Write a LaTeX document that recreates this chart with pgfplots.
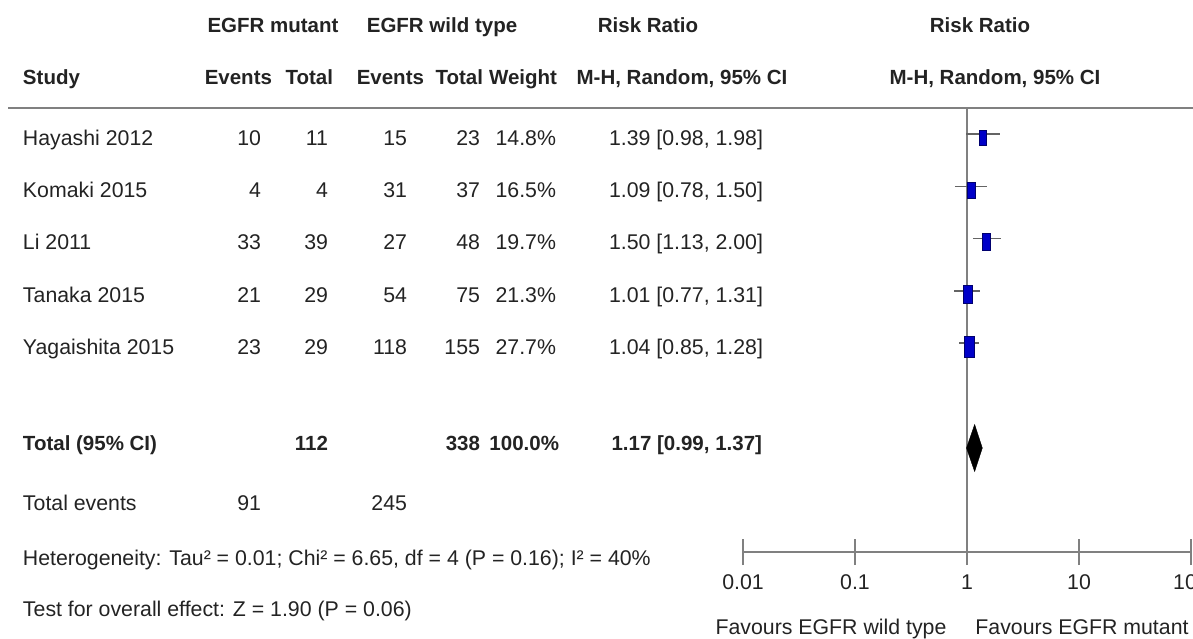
\documentclass[border=0pt]{standalone}
\usepackage{fontspec}
\setmainfont{Liberation Sans}
\usepackage{pgfplots}
\pgfplotsset{compat=1.18}
\definecolor{boxblue}{RGB}{0,0,200}
\definecolor{boxedge}{RGB}{0,0,110}
\definecolor{linegray}{RGB}{128,128,128}
\definecolor{cigray}{RGB}{100,100,100}
\definecolor{txt}{RGB}{35,35,35}
\newcommand{\fs}{\fontsize{21.3}{25}\selectfont}
\newcommand{\fb}{\fontsize{20.5}{25}\selectfont\bfseries}
\begin{document}
\begin{tikzpicture}
\begin{scope}[x=1pt,y=1pt,
  every node/.style={inner sep=0pt, outer sep=0pt, text=txt, font=\fs},
  L/.style={anchor=base west}, R/.style={anchor=base east}, C/.style={anchor=base}]
% header line
\draw[linegray, line width=2.2pt] (8,530) -- (1193,530);
% headers
\node[C, font=\fb] at (273,605) {EGFR mutant};
\node[C, font=\fb] at (442,605) {EGFR wild type};
\node[C, font=\fb] at (648,605) {Risk Ratio};
\node[C, font=\fb] at (980,605) {Risk Ratio};
\node[L, font=\fb] at (23,553) {Study};
\node[R, font=\fb] at (272,553) {Events};
\node[R, font=\fb] at (333,553) {Total};
\node[R, font=\fb] at (424,553) {Events};
\node[R, font=\fb] at (483,553) {Total};
\node[R, font=\fb] at (557,553) {Weight};
\node[C, font=\fb] at (682,553) {M-H, Random, 95\% CI};
\node[C, font=\fb] at (995,553) {M-H, Random, 95\% CI};
% study rows
\foreach \yy/\st/\ea/\ta/\eb/\tb/\w/\rr in {
  492.5/Hayashi 2012/10/11/15/23/14.8\%/{1.39 [0.98, 1.98]},
  440.5/Komaki 2015/4/4/31/37/16.5\%/{1.09 [0.78, 1.50]},
  388/Li 2011/33/39/27/48/19.7\%/{1.50 [1.13, 2.00]},
  336/Tanaka 2015/21/29/54/75/21.3\%/{1.01 [0.77, 1.31]},
  284/Yagaishita 2015/23/29/118/155/27.7\%/{1.04 [0.85, 1.28]}}{
  \node[L] at (23,\yy) {\st};
  \node[R] at (261,\yy) {\ea};
  \node[R] at (328,\yy) {\ta};
  \node[R] at (407,\yy) {\eb};
  \node[R] at (480,\yy) {\tb};
  \node[R] at (556,\yy) {\w};
  \node[R] at (763,\yy) {\rr};
}
% total
\node[L, font=\fb] at (23,187.3) {Total (95\% CI)};
\node[R, font=\fb] at (328,187.3) {112};
\node[R, font=\fb] at (480,187.3) {338};
\node[R, font=\fb] at (559,187.3) {100.0\%};
\node[R, font=\fb] at (762,187.3) {1.17 [0.99, 1.37]};
\node[L] at (23,127.3) {Total events};
\node[R] at (261,127.3) {91};
\node[R] at (407,127.3) {245};
\node[L] at (23,73) {Heterogeneity: Tau² = 0.01; Chi² = 6.65, df = 4 (P = 0.16); I² = 40\%};
\node[L] at (23,22) {Test for overall effect: Z = 1.90 (P = 0.06)};
\node[C] at (831,4) {Favours EGFR wild type};
\node[C] at (1082,4) {Favours EGFR mutant};
\end{scope}
% forest plot
\begin{axis}[at={(743pt,86pt)}, anchor=south west, scale only axis,
  width=448pt, height=445pt,
  xmode=log, xmin=0.01, xmax=100, ymin=86, ymax=531,
  axis x line=bottom, axis y line=none,
  axis line style={linegray, line width=1.3pt, -},
  xtick={0.01,0.1,1,10,100}, xticklabels={0.01,0.1,1,10,100},
  xminorticks=false,
  tick align=center, major tick length=26pt,
  tick style={linegray, line width=1.3pt},
  xticklabel style={font=\fs, text=txt, anchor=north, yshift=-6pt},
  /pgf/number format/assume math mode=true,
  clip=false]
\addplot[linegray, line width=2pt] coordinates {(1,86) (1,531)};
% confidence intervals
\addplot[cigray, line width=1.6pt] coordinates {(0.98,503.7) (1.98,503.7)};
\addplot[cigray, line width=1.6pt] coordinates {(0.78,451.3) (1.50,451.3)};
\addplot[cigray, line width=1.6pt] coordinates {(1.13,399.3) (2.00,399.3)};
\addplot[cigray, line width=1.6pt] coordinates {(0.77,347) (1.31,347)};
\addplot[cigray, line width=1.6pt] coordinates {(0.85,295) (1.28,295)};
% weighted boxes
\addplot[only marks, mark=square*, mark size=1pt, mark options={xscale=3.5, yscale=7.2, fill=boxblue, draw=boxedge, line width=0.8pt}] coordinates {(1.39,500)};
\addplot[only marks, mark=square*, mark size=1pt, mark options={xscale=4, yscale=8, fill=boxblue, draw=boxedge, line width=0.8pt}] coordinates {(1.09,448)};
\addplot[only marks, mark=square*, mark size=1pt, mark options={xscale=4.1, yscale=8.6, fill=boxblue, draw=boxedge, line width=0.8pt}] coordinates {(1.50,396)};
\addplot[only marks, mark=square*, mark size=1pt, mark options={xscale=4.5, yscale=9.1, fill=boxblue, draw=boxedge, line width=0.8pt}] coordinates {(1.01,344)};
\addplot[only marks, mark=square*, mark size=1pt, mark options={xscale=5, yscale=10.5, fill=boxblue, draw=boxedge, line width=0.8pt}] coordinates {(1.04,291)};
% pooled diamond
\addplot[fill=black, draw=black] coordinates {(0.99,190) (1.17,213.5) (1.37,190) (1.17,166.5) (0.99,190)};
\end{axis}
\pgfresetboundingbox
\path[use as bounding box] (0pt,0pt) rectangle (1193pt,638pt);
\end{tikzpicture}
\end{document}
